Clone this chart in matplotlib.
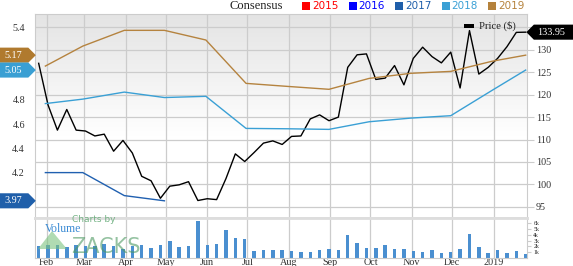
import numpy as np
import pandas as pd
import matplotlib
matplotlib.use("Agg")
import matplotlib.pyplot as plt
from matplotlib.path import Path
from matplotlib.patches import Rectangle, Polygon

# weekly price + volume (volume in thousands)
price_dates = pd.date_range("2018-01-26", periods=53, freq="7D")
price = [127.0, 117.7, 112.1, 116.7, 112.1, 111.9, 110.8, 111.2, 107.4, 109.8,
         107.0, 101.8, 100.8, 96.9, 99.6, 99.9, 100.6, 96.4, 96.8, 96.6,
         101.3, 106.8, 105.1, 107.1, 109.2, 109.7, 108.9, 110.7, 110.8, 114.6,
         115.5, 114.2, 115.0, 126.1, 128.9, 129.1, 123.4, 123.7, 126.5, 122.2,
         128.1, 130.6, 128.5, 127.1, 129.5, 121.5, 134.3, 124.6, 126.1, 128.1,
         130.7, 133.9, 133.95]
volume = [2.0, 2.3, 2.2, 1.9, 2.2, 2.0, 2.0, 2.5, 2.0, 1.5,
          2.0, 2.2, 1.8, 2.2, 2.9, 1.9, 2.0, 6.3, 2.2, 2.5,
          4.9, 3.5, 3.2, 1.2, 1.3, 1.45, 1.3, 1.2, 1.0, 1.1,
          1.45, 1.6, 1.3, 4.0, 2.6, 1.8, 1.8, 2.2, 1.5, 1.5,
          1.15, 1.0, 1.3, 0.8, 1.0, 1.6, 4.1, 1.9, 0.8, 1.45,
          0.85, 1.15, 0.7]

# consensus EPS estimates
cons_dates = pd.to_datetime(["2018-01-31", "2018-02-28", "2018-03-31", "2018-04-30",
                             "2018-05-31", "2018-06-30", "2018-07-31", "2018-08-31",
                             "2018-09-30", "2018-10-31", "2018-11-30", "2018-12-31",
                             "2019-01-25"])
eps_2019 = [5.08, 5.245, 5.375, 5.375, 5.295, 4.937, 4.912, 4.888, 4.978, 5.02, 5.036, 5.12, 5.17]
eps_2018 = [4.77, 4.807, 4.865, 4.82, 4.83, 4.565, 4.562, 4.557, 4.62, 4.65, 4.67, 4.88, 5.047]
eps_2017 = [4.20, 4.20, 4.01, 3.967]

month_ticks = pd.date_range("2018-02-01", "2019-01-01", freq="MS")
month_labels = ["Feb", "Mar", "Apr", "May", "Jun", "Jul", "Aug", "Sep", "Oct", "Nov", "Dec", "2019"]
price_ticks = [95, 100, 105, 110, 115, 120, 125, 130, 135]
price_labels = ["95", "100", "105", "110", "115", "120", "125", "130", ""]  # 135 sits under the tag
eps_ticks = [4.2, 4.4, 4.6, 4.8, 5.4]
vol_ticks = [1, 2, 3, 4, 5, 6]
vol_labels = ["1k", "2k", "3k", "4k", "5k", "6k"]

legend_years = ["2015", "2016", "2017", "2018", "2019"]
legend_colors = ["#ff0000", "#0000ff", "#1f5faa", "#3aa0d5", "#b5823c"]

c2019, c2018, c2017 = "#b5833f", "#3aa0d5", "#2060b0"
SERIF = "Liberation Serif"
W, H = 573, 266
GRID = "#cccccc"


def px(x, y):
    return x / W, 1 - y / H


def make_tag(side, pout):
    def box(x0, y0, w, h, m):
        pv = 0.3 * m
        far = 1.2 * m
        b0, b1 = y0 - pv, y0 + h + pv
        ym = (b0 + b1) / 2
        t = (b1 - b0) / 2
        if side == "right":
            a, c = x0 - far, x0 + w + pout * m
            verts = [(a, b0), (c, b0), (c + t, ym), (c, b1), (a, b1), (a, b0)]
        else:
            a, c = x0 + w + far, x0 - pout * m
            verts = [(a, b0), (c, b0), (c - t, ym), (c, b1), (a, b1), (a, b0)]
        return Path(verts, closed=True)
    return box


fig = plt.figure(figsize=(W / 100, H / 100), dpi=100)
ax = fig.add_axes([35 / W, (H - 218) / H, 492 / W, 204 / H])
axe = ax.twinx()
vol = fig.add_axes([35 / W, (H - 258) / H, 492 / W, 40 / H], sharex=ax)

# background gradient
g = np.clip((np.linspace(0, 1, 200) - 0.4) / 0.6, 0, 1)[:, None]
ax.imshow(g, extent=[0, 1, 0, 1], transform=ax.transAxes, origin="lower",
          cmap=matplotlib.colors.LinearSegmentedColormap.from_list("bg", ["#ffffff", "#e4e4e4"]),
          aspect="auto", zorder=0)

# price axis (right)
ax.plot(price_dates, price, color="black", lw=1.0, zorder=3)
ax.set_ylim(92.5, 138)
ax.set_yticks(price_ticks)
ax.set_yticklabels(price_labels)
ax.yaxis.tick_right()
ax.tick_params(axis="y", length=5, color=GRID, labelsize=7.3, labelcolor="#333333", pad=1.5)
ax.tick_params(axis="x", length=0, labelbottom=False)
ax.set_xticks(month_ticks)
ax.set_xlim(pd.Timestamp("2018-01-23 06:00"), pd.Timestamp("2019-01-26 00:00"))
ax.grid(True, color=GRID, lw=0.9)
ax.set_axisbelow(True)
for s in ax.spines.values():
    s.set_color(GRID)
    s.set_linewidth(0.8)
ax.spines["bottom"].set_color("#dddddd")
ax.spines["bottom"].set_linewidth(2)
for lab in ax.get_yticklabels():
    lab.set_family(SERIF)

# EPS axis (left)
axe.plot(cons_dates, eps_2019, color=c2019, lw=1.0)
axe.plot(cons_dates, eps_2018, color=c2018, lw=1.0)
axe.plot(cons_dates[:4], eps_2017, color=c2017, lw=1.0)
axe.set_ylim(3.825, 5.51)
axe.set_yticks(eps_ticks)
axe.yaxis.set_major_formatter(matplotlib.ticker.FormatStrFormatter("%.1f"))
axe.yaxis.tick_left()
axe.tick_params(axis="y", length=0, labelsize=7.3, labelcolor="#333333", pad=7.2)
for s in axe.spines.values():
    s.set_visible(False)
for lab in axe.get_yticklabels():
    lab.set_family(SERIF)

# value tags
tag_font = dict(fontsize=7.3, color="white", family=SERIF, va="center")
for val, txt, col in [(5.17, "5.17", "#b07a2e"), (5.047, "5.05", "#3a9fd3"), (3.967, "3.97", "#1f5faa")]:
    axe.annotate(txt, xy=(0, val), xycoords=axe.get_yaxis_transform(),
                 xytext=(-13.3 * 0.72, 0), textcoords="offset points", ha="right",
                 bbox=dict(boxstyle=make_tag("right", 0.65), fc=col, ec="none"),
                 annotation_clip=False, zorder=6, **tag_font)
ax.annotate("133.95", xy=(1, 133.95), xycoords=ax.get_yaxis_transform(),
            xytext=(9.7 * 0.72, 0), textcoords="offset points", ha="left",
            bbox=dict(boxstyle=make_tag("left", 0.28), fc="black", ec="none"),
            annotation_clip=False, zorder=6, **tag_font)

# volume
vol.bar(price_dates, volume, width=2.6, color="#4a8fd0", zorder=2)
vol.set_ylim(0, 6.9)
vol.set_yticks(vol_ticks)
vol.set_yticklabels(vol_labels)
vol.yaxis.tick_right()
vol.tick_params(axis="y", length=3, color=GRID, labelsize=4.2, labelcolor="#333333", pad=1.5)
vol.tick_params(axis="x", length=0, labelsize=7.3, labelcolor="#333333", pad=0)
vol.set_xticks(month_ticks)
vol.set_xticklabels(month_labels)
for lab in vol.get_xticklabels() + vol.get_yticklabels():
    lab.set_family(SERIF)
vol.grid(True, axis="x", color=GRID, lw=0.9)
vol.set_axisbelow(True)
for s in vol.spines.values():
    s.set_color(GRID)
    s.set_linewidth(0.8)
vol.spines["top"].set_color("#dddddd")
vol.spines["top"].set_linewidth(2)
vol.set_xlim(pd.Timestamp("2018-01-23 06:00"), pd.Timestamp("2019-01-26 00:00"))

# top legend
fig.text(*px(229, 6), "Consensus", fontsize=9, family=SERIF, va="center", ha="left", color="#222222")
for i, (yr, col) in enumerate(zip(legend_years, legend_colors)):
    x0 = 302 + i * 46.5
    fig.patches.append(Rectangle(px(x0, 10), 8 / W, 8 / H, transform=fig.transFigure,
                                 fc=col, ec="none"))
    fig.text(*px(x0 + 10, 6), yr, fontsize=7.5, color=col, va="center", ha="left")

# price legend inside plot
fig.patches.append(Rectangle(px(464, 28), 10 / W, 4 / H, transform=fig.transFigure, fc="black"))
fig.text(*px(479, 25.5), "Price ($)", fontsize=7.7, family=SERIF, va="center", ha="left", color="#222222")

# volume label + watermark
fig.text(*px(45, 228.5), "Volume", fontsize=8.5, family=SERIF, va="center", ha="left", color="#3b8bd4")
fig.patches.append(Polygon([px(38, 249), px(52, 231), px(67, 249)], closed=True,
                           transform=fig.transFigure, fc="#7cc47f", ec="none", alpha=0.6))
fig.text(*px(72, 219), "Charts by", fontsize=6.5, color="#5fa872", va="center", ha="left", alpha=0.85)
fig.text(*px(71, 247), "ZACKS", fontsize=15, color="#4e9a63", va="center", ha="left", alpha=0.6)

fig.savefig("out.png", dpi=100)
